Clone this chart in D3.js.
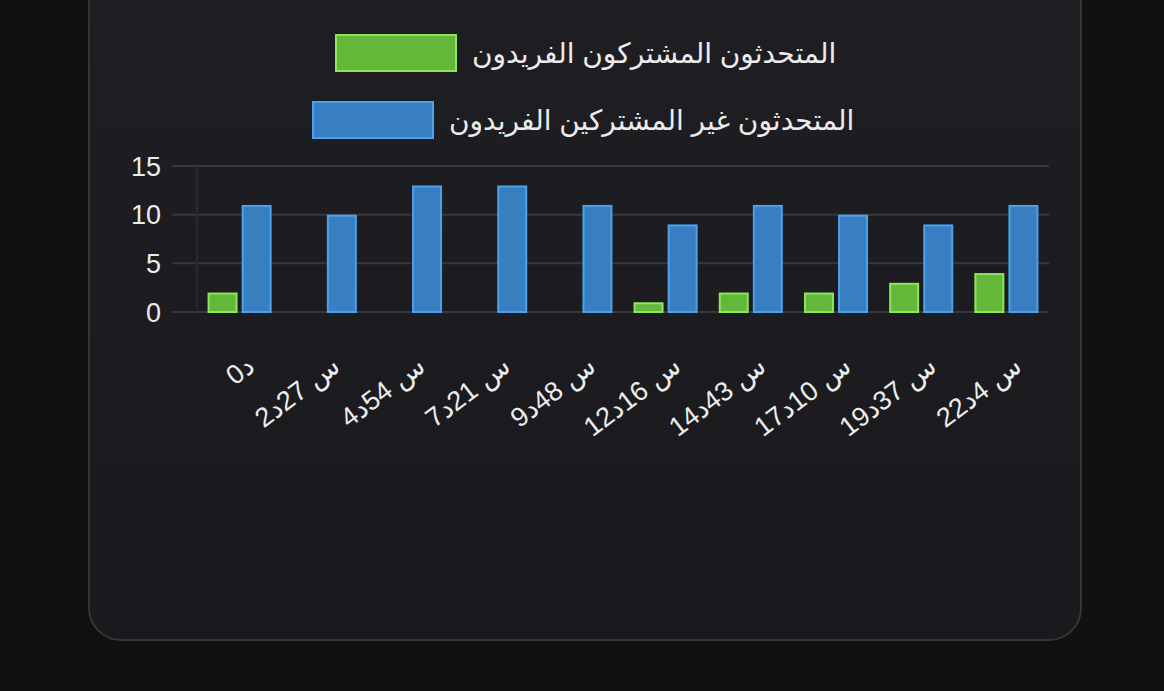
<!DOCTYPE html>
<html lang="ar">
<head>
<meta charset="UTF-8">
<title>Unique speakers</title>
<script src="https://d3js.org/d3.v7.min.js"></script>
<style>
  html, body { margin: 0; padding: 0; background: #111112; }
  svg { display: block; }
  text { font-family: "Liberation Sans", "DejaVu Sans", sans-serif; fill: #ececec; }
</style>
</head>
<body>
<div id="chart"></div>
<script>
// chart data
const labels = ["0د", "2س 27د", "4س 54د", "7س 21د", "9س 48د", "12س 16د", "14س 43د", "17س 10د", "19س 37د", "22س 4د"];
const sharedSpeakers = [2, 0, 0, 0, 0, 1, 2, 2, 3, 4];
const otherSpeakers = [11, 10, 13, 13, 11, 9, 11, 10, 9, 11];
const seriesNames = ["المتحدثون المشتركون الفريدون", "المتحدثون غير المشتركين الفريدون"];
const yTicks = [0, 5, 10, 15];

const W = 1164, H = 691;
const svg = d3.select("#chart").append("svg").attr("width", W).attr("height", H);

// card
const defs = svg.append("defs");
const grad = defs.append("linearGradient").attr("id", "cardbg").attr("x1", 0).attr("y1", 0).attr("x2", 0).attr("y2", 1);
grad.append("stop").attr("offset", "0%").attr("stop-color", "#1f1f23");
grad.append("stop").attr("offset", "100%").attr("stop-color", "#1a1a1e");
svg.append("rect").attr("width", W).attr("height", H).attr("fill", "#111112");
svg.append("rect")
    .attr("x", 89).attr("y", -60).attr("width", 992).attr("height", 700)
    .attr("rx", 32)
    .attr("fill", "url(#cardbg)")
    .attr("stroke", "#2f3a2b").attr("stroke-width", 2);

const plot = { left: 197, right: 1049, top: 166, bottom: 312 };

const x = d3.scaleBand().domain(labels).range([plot.left, plot.right]).padding(0);
// chart.js style: group = 80% of category, each bar 90% of its slot
const groupW = x.bandwidth() * 0.8, slot = groupW / 2, barW = slot * 0.88;
const y = d3.scaleLinear().domain([0, 15]).range([plot.bottom, plot.top]);

// grid
svg.append("g").selectAll("line").data(yTicks).join("line")
    .attr("x1", 172).attr("x2", plot.right)
    .attr("y1", d => y(d)).attr("y2", d => y(d))
    .attr("stroke", "#38383c").attr("stroke-width", 2);
svg.append("line")
    .attr("x1", plot.left).attr("x2", plot.left)
    .attr("y1", plot.top).attr("y2", plot.bottom)
    .attr("stroke", "#29292d").attr("stroke-width", 2);

// y tick labels
svg.append("g").selectAll("text").data(yTicks).join("text")
    .attr("x", 161).attr("y", d => y(d))
    .attr("text-anchor", "end").attr("dy", "0.36em")
    .style("font-size", "27px")
    .text(d => d);

// bars
const series = [
  { values: sharedSpeakers, fill: "#63b83a", stroke: "#8de65a" },
  { values: otherSpeakers, fill: "#3a7ec2", stroke: "#4aa2ee" }
];
series.forEach((s, si) => {
  svg.append("g").selectAll("rect").data(s.values.map((v, i) => ({ v, i }))).join("rect")
      .filter(d => d.v > 0)
      .attr("x", d => x(labels[d.i]) + x.bandwidth() * 0.1 + si * slot + (slot - barW) / 2 + 1)
      .attr("y", d => y(d.v) + 1)
      .attr("width", barW - 2)
      .attr("height", d => y(0) - y(d.v) - 1)
      .attr("fill", s.fill)
      .attr("stroke", s.stroke).attr("stroke-width", 2);
});

// x tick labels, rotated
svg.append("g").selectAll("text").data(labels).join("text")
    .attr("transform", d => `translate(${x(d) + x.bandwidth() / 2 + 11},${362}) rotate(-37)`)
    .attr("text-anchor", "end").attr("dy", "0.36em")
    .style("font-size", "27px")
    .text(d => d);

// legend
const legendRows = [
  { name: seriesNames[0], box: [335, 34], fill: "#63b83a", stroke: "#8de65a", tx: 472, ty: 53 },
  { name: seriesNames[1], box: [312, 101], fill: "#3a7ec2", stroke: "#4aa2ee", tx: 449, ty: 120 }
];
legendRows.forEach(r => {
  svg.append("rect")
      .attr("x", r.box[0] + 1).attr("y", r.box[1] + 1)
      .attr("width", 120).attr("height", 36)
      .attr("fill", r.fill).attr("stroke", r.stroke).attr("stroke-width", 2);
  svg.append("text")
      .attr("x", r.tx).attr("y", r.ty).attr("dy", "0.35em")
      .attr("direction", "ltr")
      .style("font-size", "28px")
      .text(r.name);
});
</script>
</body>
</html>
